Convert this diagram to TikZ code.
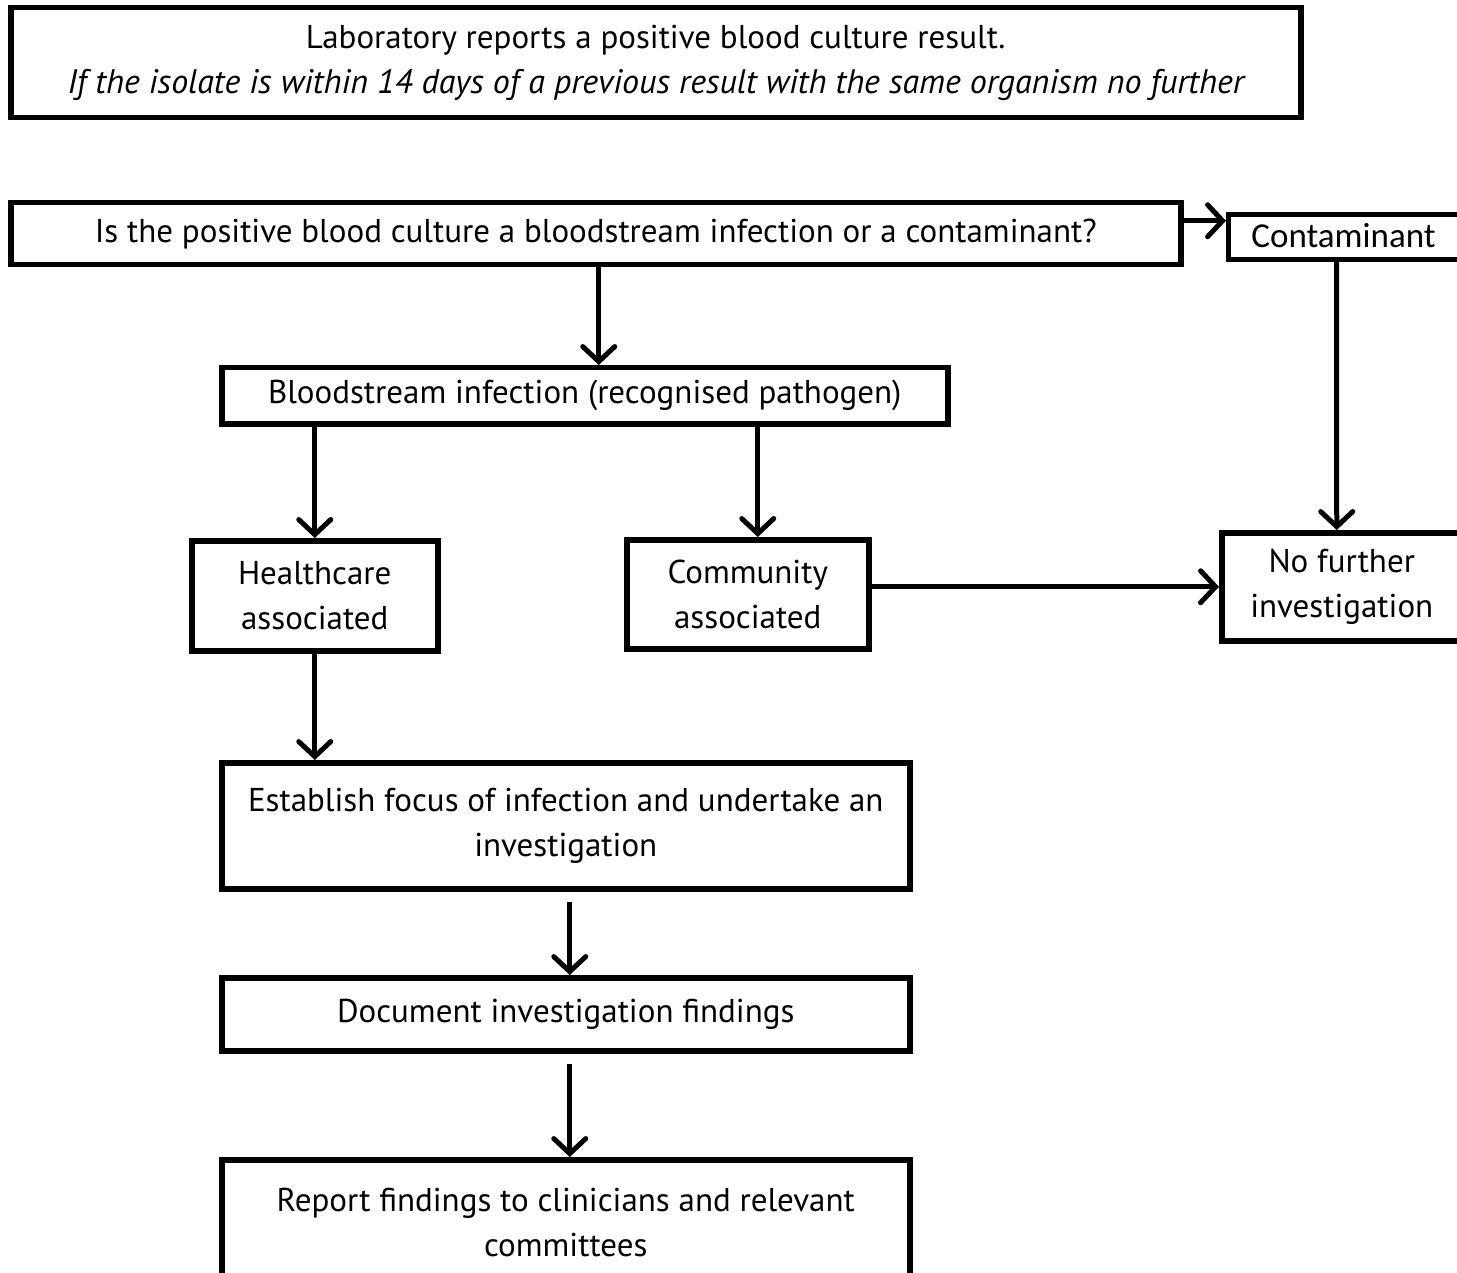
\documentclass[tikz,border=0pt]{standalone}
\usepackage{fontspec}
\setmainfont{PT Sans}
\newfontfamily\calfont{Carlito}
\usetikzlibrary{positioning,arrows.meta,calc}

\begin{document}
\begin{tikzpicture}[x=1pt,y=1pt,
  box/.style={draw,line width=5.5pt,anchor=north west,align=center,inner sep=0pt,
    font=\fontsize{33}{45}\selectfont},
  link/.style={line width=5pt,-{Straight Barb[length=15pt,width=32pt,line cap=round]}}
]
\useasboundingbox (0,0) rectangle (1457,-1273);
\clip (0,0) rectangle (1457,-1273);

% the report
\node[box,minimum width=1290pt,minimum height=110pt] (lab) at (8,-5)
  {Laboratory reports a positive blood culture result.\\
   \fontsize{34}{45}\selectfont\itshape If the isolate is within 14 days of a previous result with the same organism no further};

% the question
\node[box,minimum width=1170pt,minimum height=62pt] (q) at (8,-200)
  {Is the positive blood culture a bloodstream infection or a contaminant?};
\node[box,line width=5pt,minimum width=240pt,minimum height=45pt,font=\calfont\fontsize{35}{40}\selectfont] (con) at (1226,-212)
  {\hspace*{-10pt}\raisebox{3pt}{Contaminant}};

% the infection
\node[box,minimum width=726pt,minimum height=56pt] (bsi) at (219,-365)
  {Bloodstream infection (recognised pathogen)};
\node[box,minimum width=246pt,minimum height=110pt] (hca) at (189,-538)
  {Healthcare\\associated};
\node[box,minimum width=242pt,minimum height=109pt] (cai) at (624,-537)
  {Community\\associated};
\node[box,minimum width=244pt,minimum height=108pt] (nfi) at (1219,-530)
  {\hspace*{-4pt}No further\\\hspace*{-4pt}investigation};

% the investigation
\node[box,minimum width=688pt,minimum height=126pt] (est) at (219,-760)
  {Establish focus of infection and undertake an\\investigation};
\node[box,minimum width=688pt,minimum height=73pt] (doc) at (219,-975)
  {Document investigation findings};
\node[box,minimum width=688pt,minimum height=126pt] (rep) at (219,-1157)
  {Report findings to clinicians and relevant\\committees};

% the edges
\draw[link] ([xshift=3pt]q.south) -- ([xshift=3pt]q.south |- bsi.north);
\draw[link] ([yshift=13pt]q.east) -- ([yshift=13pt]q.east -| con.west);
\draw[link] ([xshift=-12pt]con.south) -- ([xshift=-7pt]nfi.north);
\draw[link] (hca.north |- bsi.south) -- (hca.north);
\draw[link] ([xshift=10pt]cai.north |- bsi.south) -- ([xshift=10pt]cai.north);
\draw[link] (nfi.west -| cai.east) -- (nfi.west);
\draw[link] (hca.south) -- (hca.south |- est.north);
\draw[link] ([xshift=4pt,yshift=-10pt]est.south) -- ([xshift=4pt]doc.north);
\draw[link] ([xshift=4pt,yshift=-10pt]doc.south) -- ([xshift=4pt]rep.north);
\end{tikzpicture}
\end{document}
